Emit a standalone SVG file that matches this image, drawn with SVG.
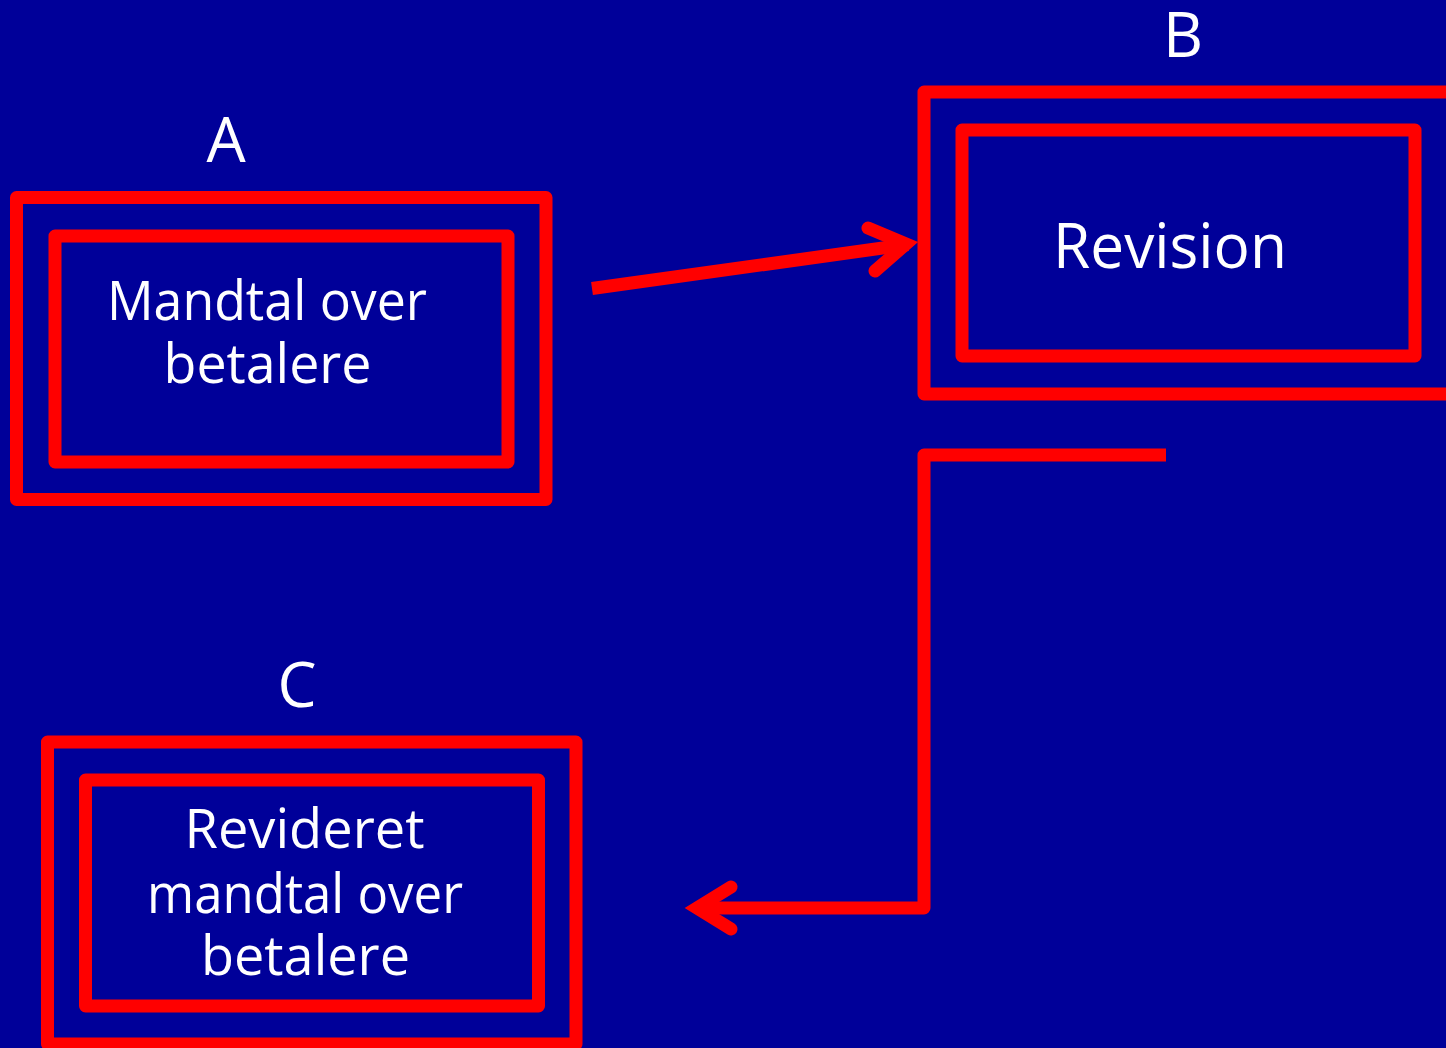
<svg xmlns="http://www.w3.org/2000/svg" width="1446" height="1048" viewBox="0 0 1446 1048">
<style>
.box{fill:none;stroke:#ff0000;stroke-width:13;stroke-linejoin:round}
.lbl{fill:#ffffff;font-family:"Open Sans","Noto Sans",sans-serif;text-anchor:middle}
.big{font-size:62px}
.txt{font-size:54px}
.rev{font-size:62px}
.con{fill:none;stroke:#ff0000;stroke-width:13}
</style>
<rect x="0" y="0" width="1446" height="1048" fill="#000099"/>
<g id="nodeA">
<text class="lbl big" x="226" y="162">A</text>
<rect class="box" x="16.5" y="197.5" width="529.5" height="302"/>
<rect class="box" x="55" y="236" width="453" height="226"/>
<text class="lbl txt" x="267" y="320" textLength="320" lengthAdjust="spacingAndGlyphs">Mandtal over</text>
<text class="lbl txt" x="267.5" y="383" textLength="208" lengthAdjust="spacingAndGlyphs">betalere</text>
</g>
<g id="nodeB">
<text class="lbl big" x="1183" y="57">B</text>
<rect class="box" x="924" y="92" width="560" height="302"/>
<rect class="box" x="962" y="130" width="453" height="226"/>
<text class="lbl rev" x="1170" y="268" textLength="234" lengthAdjust="spacingAndGlyphs">Revision</text>
</g>
<g id="nodeC">
<text class="lbl big" x="297" y="707">C</text>
<rect class="box" x="47.5" y="742" width="528.5" height="302"/>
<rect class="box" x="85.5" y="780" width="453" height="226"/>
<text class="lbl txt" x="304.5" y="848" textLength="240" lengthAdjust="spacingAndGlyphs">Revideret</text>
<text class="lbl txt" x="305" y="913" textLength="316" lengthAdjust="spacingAndGlyphs">mandtal over</text>
<text class="lbl txt" x="305.5" y="975" textLength="209" lengthAdjust="spacingAndGlyphs">betalere</text>
</g>
<g id="connectors">
<line class="con" x1="592" y1="288.5" x2="908" y2="244.5" stroke-linecap="butt"/>
<polyline class="con" points="868,228 906,244 875,271" stroke-linecap="round" stroke-linejoin="miter" stroke-miterlimit="10"/>
<polyline class="con" points="1166,455 924,455 924,908 700,908" stroke-linecap="butt" stroke-linejoin="round"/>
<polyline class="con" points="731,887 697,908 731,929" stroke-linecap="round" stroke-linejoin="miter" stroke-miterlimit="10"/>
</g>
</svg>
